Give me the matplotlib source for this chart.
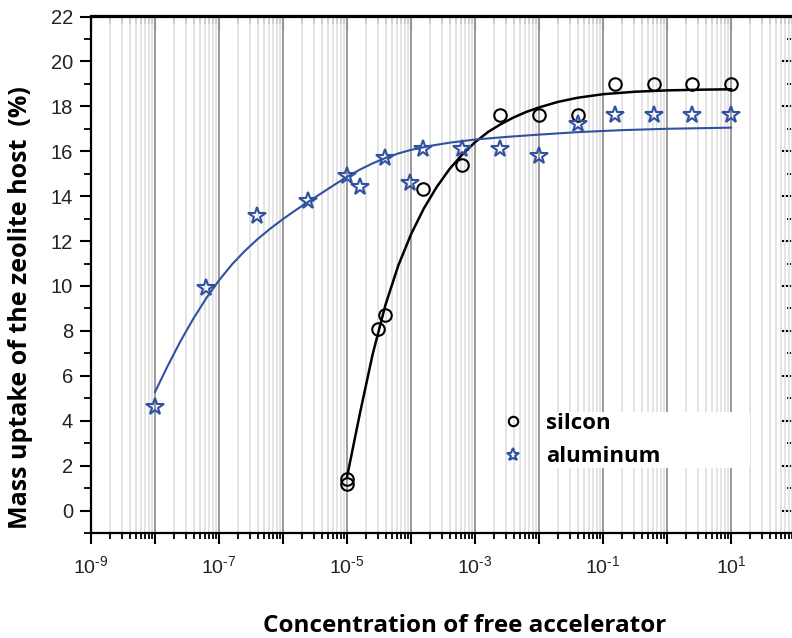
import numpy as np
import matplotlib
matplotlib.use('Agg')
import matplotlib.pyplot as plt
from matplotlib.patches import Rectangle
from matplotlib.ticker import FixedLocator, FuncFormatter, MultipleLocator

plt.rcParams['mathtext.fontset'] = 'custom'
plt.rcParams['mathtext.rm'] = 'Liberation Sans'
plt.rcParams['mathtext.it'] = 'Liberation Sans'
plt.rcParams['axes.unicode_minus'] = False

# measured points (concentration, uptake %)
si_x = [1e-5, 1e-5, 3.0e-5, 3.9e-5, 1.55e-4, 6.2e-4, 2.5e-3, 1e-2, 4e-2, 0.155, 0.62, 2.45, 10]
si_y = [1.4, 1.2, 8.1, 8.7, 14.3, 15.4, 17.6, 17.6, 17.6, 19.0, 19.0, 19.0, 19.0]

al_x = [1e-8, 6.3e-8, 3.9e-7, 2.5e-6, 1e-5, 1.6e-5, 3.9e-5, 9.6e-5, 1.55e-4,
        6.2e-4, 2.5e-3, 1e-2, 4e-2, 0.155, 0.62, 2.45, 10]
al_y = [4.6, 9.9, 13.1, 13.8, 14.9, 14.4, 15.7, 14.6, 16.1,
        16.1, 16.1, 15.8, 17.2, 17.6, 17.6, 17.6, 17.6]

# fitted curves (log10 of concentration, uptake %)
si_fit_logc = [-5.0, -4.8, -4.6, -4.4, -4.2, -4.0, -3.8, -3.6, -3.4, -3.2, -3.0,
               -2.8, -2.6, -2.4, -2.2, -2.0, -1.7, -1.4, -1.0, -0.5, 0.0, 0.5, 1.0]
si_fit_y = [1.49, 4.3, 6.95, 9.15, 10.9, 12.3, 13.45, 14.4, 15.2, 15.85, 16.4,
            16.85, 17.2, 17.5, 17.75, 17.95, 18.2, 18.38, 18.54, 18.65, 18.71, 18.74, 18.76]

al_fit_logc = [-8.0, -7.8, -7.6, -7.4, -7.2, -7.0, -6.8, -6.6, -6.4, -6.2, -6.0,
               -5.8, -5.6, -5.4, -5.2, -5.0, -4.8, -4.6, -4.4, -4.2, -4.0, -3.7,
               -3.4, -3.0, -2.5, -2.0, -1.4, -0.7, 0.0, 1.0]
al_fit_y = [5.28, 6.45, 7.55, 8.55, 9.45, 10.25, 10.95, 11.55, 12.08, 12.55, 12.98,
            13.38, 13.76, 14.13, 14.5, 14.86, 15.18, 15.46, 15.7, 15.9, 16.06, 16.24,
            16.38, 16.52, 16.64, 16.74, 16.85, 16.94, 17.0, 17.05]

blue = '#3050a0'

fig = plt.figure(figsize=(7.92, 6.38), dpi=100)
ax = fig.add_axes([91 / 792, 1 - 533 / 638, 704 / 792, 516.5 / 638])

ax.set_xscale('log')
ax.set_xlim(1e-9, 1e2)
ax.set_ylim(-1, 22)

# grid: dark at decades, light in between
ax.grid(True, which='major', axis='x', color='#9a9a9a', lw=1.4)
ax.grid(True, which='minor', axis='x', color='#e2e2e2', lw=1.3)
ax.set_axisbelow(True)

ax.plot(10 ** np.array(si_fit_logc), si_fit_y, color='black', lw=1.8)
ax.plot(10 ** np.array(al_fit_logc), al_fit_y, color=blue, lw=1.5)

ax.plot(si_x, si_y, 'o', ms=9, mfc='none', mec='black', mew=1.5, label='silcon')
ax.plot(al_x, al_y, '*', ms=13, mfc='none', mec=blue, mew=1.5, label='aluminum')


def dec_label(v, pos):
    e = int(round(np.log10(v)))
    if e % 2 == 0:
        return ''
    if e < 0:
        return r'$\mathdefault{10^{\text{-}%d}}$' % -e
    return r'$\mathdefault{10^{%d}}$' % e


decades = [10.0 ** k for k in range(-9, 3)]
ax.xaxis.set_major_locator(FixedLocator(decades))
ax.xaxis.set_major_formatter(FuncFormatter(dec_label))
minors = [m * 10.0 ** k for k in range(-9, 2) for m in range(2, 10)]
ax.xaxis.set_minor_locator(FixedLocator(minors))
ax.xaxis.set_minor_formatter(FuncFormatter(lambda v, p: ''))

ax.yaxis.set_major_locator(MultipleLocator(2))
ax.yaxis.set_minor_locator(MultipleLocator(1))
ax.set_yticks(range(0, 23, 2))

for s in ax.spines.values():
    s.set_linewidth(1.6)

ax.tick_params(axis='x', which='major', direction='out', length=8, width=1.5,
               top=False, labelsize=14, labelcolor='#222222', pad=8)
ax.tick_params(axis='x', which='minor', direction='out', length=4.5, width=1.3, top=False)
ax.tick_params(axis='y', which='major', direction='out', length=8, width=1.5,
               right=False, labelsize=14.5, labelcolor='#222222', pad=5)
ax.tick_params(axis='y', which='minor', direction='out', length=5, width=1.3, right=False)
for lab in ax.get_xticklabels() + ax.get_yticklabels():
    lab.set_fontfamily('Liberation Sans')

# inward ticks on top and right
sec_x = ax.secondary_xaxis('top')
sec_x.xaxis.set_major_locator(FixedLocator(decades))
sec_x.xaxis.set_minor_locator(FixedLocator(minors))
sec_x.tick_params(axis='x', which='major', direction='in', length=10, width=1.5, labeltop=False)
sec_x.tick_params(axis='x', which='minor', direction='in', length=5.5, width=1.3)
sec_x.spines['top'].set_linewidth(1.6)

sec_y = ax.secondary_yaxis('right')
sec_y.yaxis.set_major_locator(MultipleLocator(2))
sec_y.yaxis.set_minor_locator(MultipleLocator(1))
sec_y.tick_params(axis='y', which='major', direction='in', length=10, width=1.5, labelright=False)
sec_y.tick_params(axis='y', which='minor', direction='in', length=5.5, width=1.3)

ax.set_xlabel('Concentration of free accelerator', family='Open Sans',
              fontweight='bold', fontsize=17.5)
ax.xaxis.set_label_coords(0.531, -0.156)
ax.set_ylabel('Mass uptake of the zeolite host  (%)', family='Open Sans',
              fontweight='bold', fontsize=18)
ax.yaxis.set_label_coords(-0.082, 0.437)

# white box behind the legend text, covering the grid
ax.add_patch(Rectangle((0.648, 0.126), 0.288, 0.108, transform=ax.transAxes,
                       facecolor='white', edgecolor='none', zorder=1))

leg = ax.legend(loc='upper left', bbox_to_anchor=(0.5615, 0.262), frameon=False,
                prop={'family': 'Open Sans', 'weight': 'bold', 'size': 16},
                markerscale=0.75, handlelength=1.0, handletextpad=1.0,
                labelspacing=0.55, borderpad=0.2)

fig.savefig('out.png', dpi=100)
